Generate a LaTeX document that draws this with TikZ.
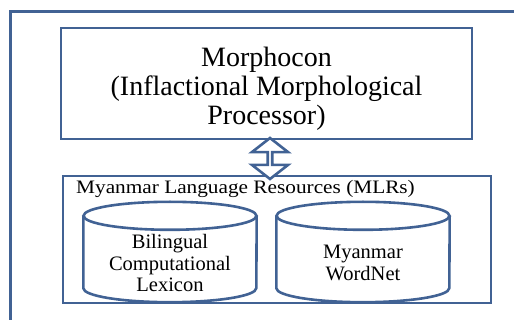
\documentclass[tikz,border=0pt]{standalone}
\usepackage{fontspec}
\setmainfont{Liberation Serif}
\usepackage{graphicx}
\usetikzlibrary{shapes.arrows}
\definecolor{frameblue}{RGB}{65,98,148}
\tikzset{
	box/.style={rectangle,draw=frameblue,line width=2.6pt,inner sep=0pt},
	db/.style={rectangle,inner sep=0pt,minimum width=173pt,minimum height=100pt},
	dbline/.style={draw=frameblue,line width=2.6pt},
	link/.style={double arrow,shape border rotate=90,draw=frameblue,fill=white,line width=2.6pt,inner sep=0pt,minimum height=41pt,minimum width=36pt,double arrow head extend=9pt,double arrow tip angle=104},
	txt/.style={align=center,text=black,inner sep=0pt},
}

\begin{document}
\begin{tikzpicture}[x=1pt,y=-1pt]
\useasboundingbox (0,0) rectangle (514,320);
%FRAME
\draw[frameblue,line width=3pt] (10,320) -- (10,12) -- (514,12);
%BOXES
\node[box,minimum width=411pt,minimum height=111pt] (morph) at (266.5,83.5) {};
\node[txt,font=\fontsize{28}{29}\selectfont] (morphtxt) at ([yshift=-5pt]morph.center) {Morphocon\\(Inflactional Morphological\\Processor)};
\node[box,minimum width=428pt,minimum height=127pt] (mlr) at (277,239.5) {};
\node[txt,anchor=base west] (mlrtxt) at (76,194) {\scalebox{1.12}[1]{\fontsize{19}{21}\selectfont Myanmar Language Resources (MLRs)}};
%CILINDRI
\node[db] (lex) at (170,252) {};
\node[db] (wn) at (363,252) {};
\foreach \c in {lex,wn}{
	\draw[dbline,fill=white] ([yshift=-14pt]\c.north west) -- ([yshift=14pt]\c.south west)
		arc[start angle=180,end angle=360,x radius=86.5pt,y radius=14pt] -- ([yshift=-14pt]\c.north east);
	\draw[dbline] ([yshift=-14pt]\c.north) ellipse[x radius=86.5pt,y radius=14pt];
}
\node[txt,font=\fontsize{20.5}{21.5}\selectfont] (lextxt) at ([yshift=-11pt]lex.center) {Bilingual\\Computational\\Lexicon};
\node[txt,font=\fontsize{20.5}{21.5}\selectfont] (wntxt) at ([yshift=-11pt]wn.center) {Myanmar\\WordNet};
%FRECCIA
\node[link] (arr) at (270,158.5) {};
\end{tikzpicture}
\end{document}
